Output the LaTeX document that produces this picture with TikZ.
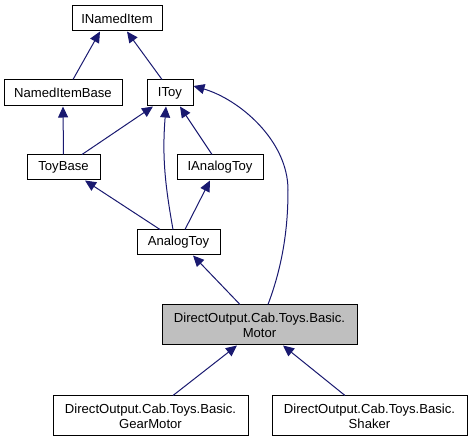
\documentclass[tikz,border=0pt]{standalone}
\usepackage{fontspec}
\setmainfont{Liberation Sans}
\usetikzlibrary{arrows.meta}
\definecolor{edgecol}{HTML}{191970}
\definecolor{motorfill}{HTML}{BFBFBF}
\tikzset{
  cls/.style={draw=black, line width=1pt, fill=white, inner sep=0pt,
    font=\fontsize{13.1}{15}\selectfont, align=center, minimum height=25pt},
  cls2/.style={cls, minimum height=40pt},
  edge/.style={draw=edgecol, line width=1pt, -{Triangle[length=11pt,width=10pt]}}
}
\begin{document}
\begin{tikzpicture}[x=1pt,y=-1pt]
\useasboundingbox (0,0) rectangle (472,443);
\node[cls, minimum width=90pt] (INI) at (117,18.5) {INamedItem};
\node[cls, minimum width=118pt, minimum height=26pt] (NIB) at (63,93) {NamedItemBase};
\node[cls, minimum width=46pt, minimum height=26pt] (IToy) at (170,93) {IToy};
\node[cls, minimum width=73pt] (TB) at (63.5,167.5) {ToyBase};
\node[cls, minimum width=86pt] (IAT) at (220,167.5) {IAnalogToy};
\node[cls, minimum width=83pt] (AT) at (178.5,242.5) {AnalogToy};
\node[cls2, minimum width=195pt, fill=motorfill] (M) at (259.5,325) {DirectOutput.Cab.Toys.Basic.\\Motor};
\node[cls2, minimum width=195pt] (GM) at (150.5,416) {DirectOutput.Cab.Toys.Basic.\\GearMotor};
\node[cls2, minimum width=195pt] (SH) at (369.5,416) {DirectOutput.Cab.Toys.Basic.\\Shaker};

\draw[edge] ([xshift=10pt]NIB.north) -- ([xshift=-17pt]INI.south);
\draw[edge] ([xshift=-8pt]IToy.north) -- ([xshift=10pt]INI.south);
\draw[edge] (TB.north) -- (NIB.south);
\draw[edge] ([xshift=18.5pt]TB.north) -- ([xshift=-17pt]IToy.south);
\draw[edge] ([xshift=-8pt]IAT.north) -- ([xshift=10pt]IToy.south);
\draw[edge] ([xshift=-18.5pt]AT.north) -- ([xshift=21.5pt]TB.south);
\draw[edge] ([xshift=6.5pt]AT.north) -- ([xshift=-10pt]IAT.south);
\draw[edge] ([xshift=-5.5pt]AT.north) .. controls +(-8,-45) and +(-4,50) .. ([xshift=-4pt]IToy.south);
\draw[edge] ([xshift=-19.5pt]M.north) -- ([xshift=14.5pt]AT.south);
\coordinate (bend) at (288,190);
\draw[edge] ([xshift=8.5pt]M.north) .. controls +(17,-45) and +(0,30) .. (bend)
  .. controls +(0,-50) and +(45,13) .. ([yshift=7pt]IToy.east);
\draw[edge] ([xshift=22.5pt]GM.north) -- ([xshift=-22.5pt]M.south);
\draw[edge] ([xshift=-24.5pt]SH.north) -- ([xshift=23.5pt]M.south);
\end{tikzpicture}
\end{document}
